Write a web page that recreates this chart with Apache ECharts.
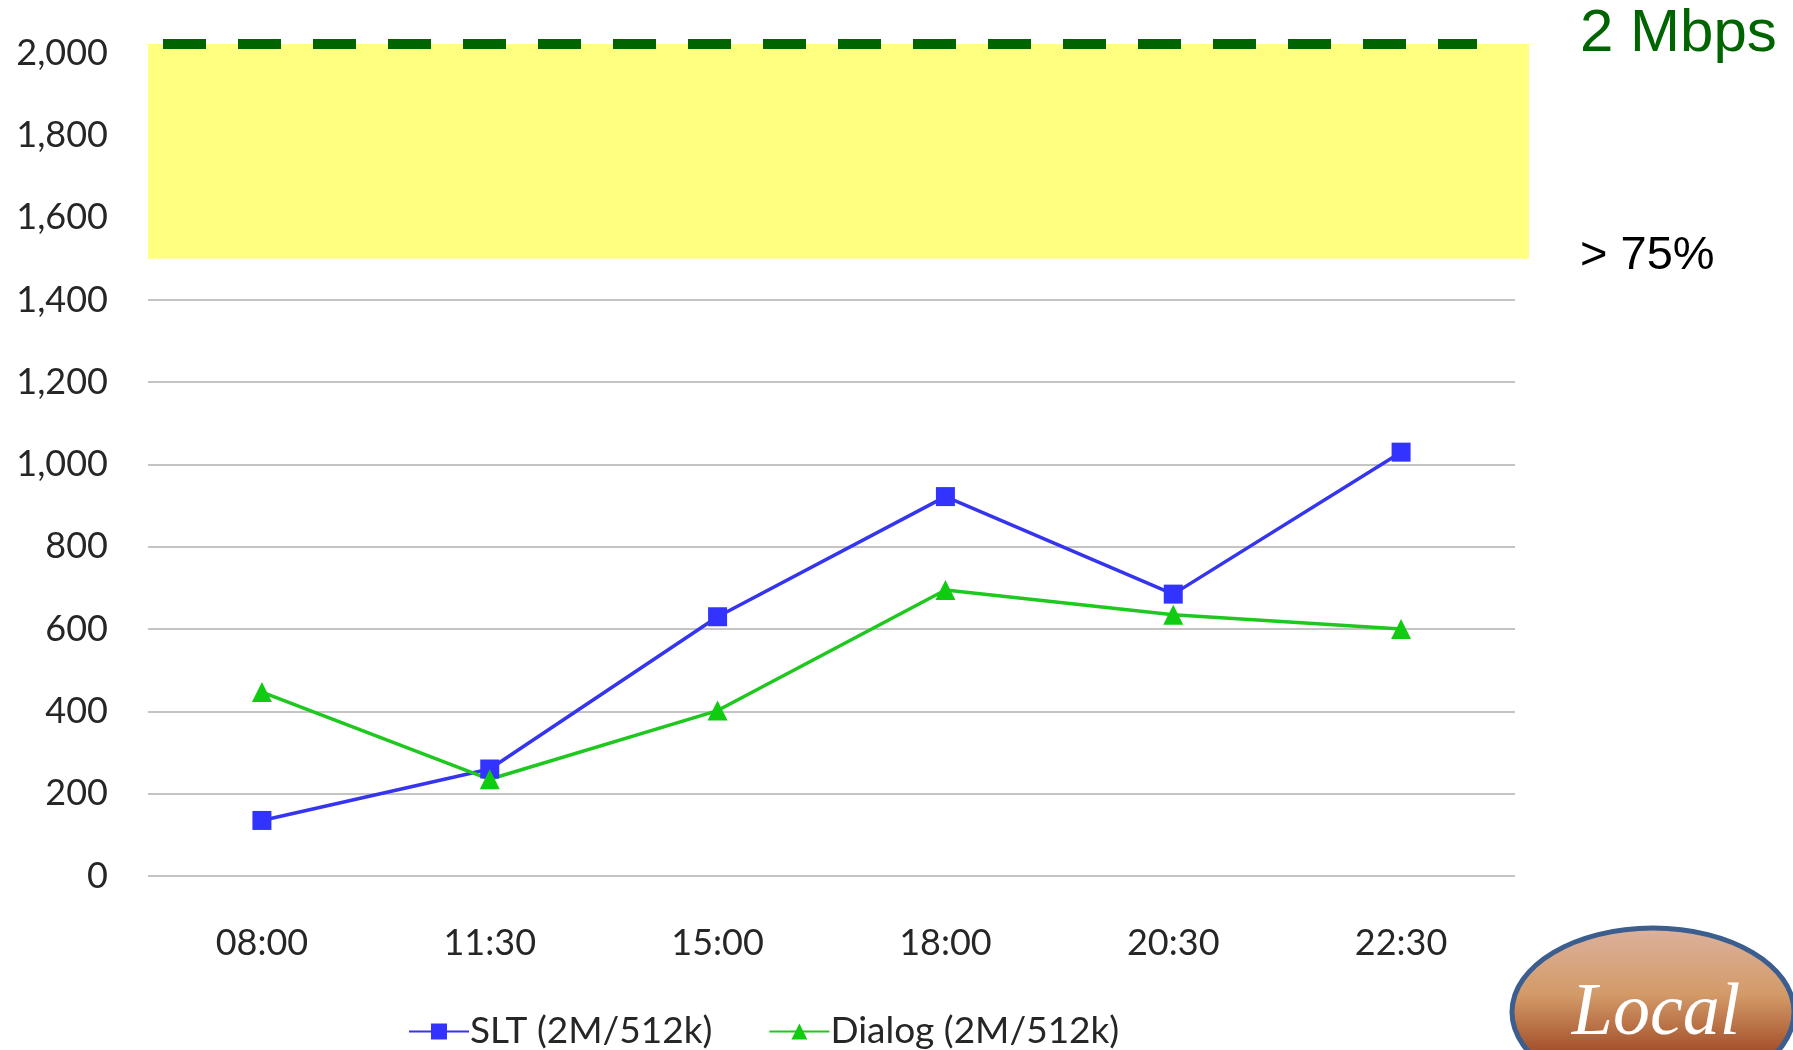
<!DOCTYPE html>
<html>
<head>
<meta charset="utf-8">
<script src="https://cdn.jsdelivr.net/npm/echarts@6/dist/echarts.min.js"></script>
<style>
html,body{margin:0;padding:0;background:#fff;}
#chart{width:1793px;height:1050px;}
</style>
</head>
<body>
<div id="chart"></div>
<script>
const categories = ['08:00', '11:30', '15:00', '18:00', '20:30', '22:30'];
const sltValues = [135, 260, 630, 922, 685, 1030];
const dialogValues = [447, 235, 402, 695, 635, 600];
const seriesNames = ['SLT (2M/512k)', 'Dialog (2M/512k)'];
const bandRange = [1500, 2022];   // yellow ">75%" band, dashed 2 Mbps cap line on top
const yTicks = { min: 0, max: 2000, interval: 200 };

const chart = echarts.init(document.getElementById('chart'), null, { renderer: 'canvas' });
const labelFont = 'Lato, "Open Sans", sans-serif';

chart.setOption({
  animation: false,
  backgroundColor: '#ffffff',
  grid: { left: 148, right: 278, top: 53, bottom: 174, containLabel: false },
  xAxis: {
    type: 'category',
    data: categories,
    boundaryGap: true,
    axisLine: { show: false },
    axisTick: { show: false },
    axisLabel: { color: '#262626', fontSize: 36, fontFamily: labelFont, margin: 49 }
  },
  yAxis: {
    type: 'value',
    min: yTicks.min, max: yTicks.max, interval: yTicks.interval,
    axisLine: { show: false },
    axisTick: { show: false },
    splitLine: { lineStyle: { color: '#c4c4c4', width: 2 } },
    axisLabel: {
      color: '#262626', fontSize: 36, fontFamily: labelFont, margin: 40,
      formatter: v => v.toLocaleString('en-US')
    }
  },
  legend: {
    left: 403, top: 1008,
    itemWidth: 60, itemHeight: 20, itemGap: 56,
    textStyle: { color: '#262626', fontSize: 37, fontFamily: labelFont, padding: [0, 0, 0, -4] },
    data: seriesNames
  },
  series: [
    {
      type: 'custom',
      z: 0,
      silent: true,
      data: [bandRange],
      renderItem: function (params, api) {
        const cs = params.coordSys;
        const yLow = api.coord([0, api.value(0)])[1];
        const yHigh = api.coord([0, api.value(1)])[1];
        const x0 = cs.x;
        const x1 = cs.x + cs.width + 14;
        return {
          type: 'group',
          children: [
            { type: 'rect', z2: 0, shape: { x: x0, y: yHigh, width: x1 - x0, height: yLow - yHigh },
              style: { fill: '#ffff80' } },
            { type: 'line', z2: 100, shape: { x1: x0 + 15, y1: yHigh, x2: cs.x + cs.width - 38, y2: yHigh },
              style: { stroke: '#006400', lineWidth: 10, lineDash: [43, 32] } }
          ]
        };
      }
    },
    {
      name: seriesNames[0],
      type: 'line',
      z: 3,
      data: sltValues,
      symbol: 'rect',
      symbolSize: 19,
      lineStyle: { color: '#3535f0', width: 3.5 },
      itemStyle: { color: '#3333ff' }
    },
    {
      name: seriesNames[1],
      type: 'line',
      z: 3,
      data: dialogValues,
      symbol: 'triangle',
      symbolSize: 20,
      lineStyle: { color: '#1ec81e', width: 3.5 },
      itemStyle: { color: '#10cc10' }
    }
  ],
  graphic: [
    { type: 'text', left: 1580, top: 4, z: 10,
      style: { text: '2 Mbps', fill: '#006400', font: '60px "Liberation Sans", Arial, sans-serif' } },
    { type: 'text', left: 1580, top: 233, z: 10,
      style: { text: '> 75%', fill: '#000000', font: '47px "Liberation Sans", Arial, sans-serif' } },
    { type: 'ellipse', z: 10,
      shape: { cx: 1653, cy: 1012, rx: 141, ry: 84 },
      style: {
        fill: new echarts.graphic.LinearGradient(0, 0, 0, 1, [
          { offset: 0, color: '#dcb29e' },
          { offset: 0.4, color: '#d39a68' },
          { offset: 0.73, color: '#a4502a' },
          { offset: 1, color: '#8a3a18' }
        ]),
        stroke: '#3b5e8e', lineWidth: 5
      } },
    { type: 'text', z: 11, x: 1656, y: 1052,
      style: { text: 'Local', fill: '#ffffff', align: 'center', verticalAlign: 'bottom',
        font: 'italic 74px "Liberation Serif", "DejaVu Serif", serif' } }
  ]
});
</script>
</body>
</html>
